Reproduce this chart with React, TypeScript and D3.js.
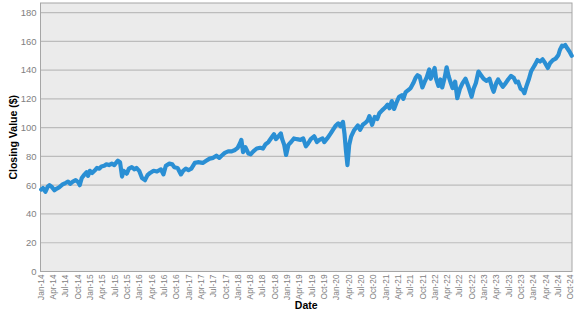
import React from "react";
import * as d3 from "d3";

const dates: string[] = [
  "2014-01-02","2014-01-15","2014-02-03","2014-02-20","2014-03-05","2014-03-20","2014-04-10","2014-04-25","2014-05-15","2014-06-10","2014-07-01","2014-07-20","2014-08-05","2014-08-25","2014-09-15","2014-10-05","2014-10-15","2014-10-30","2014-11-20","2014-12-05","2014-12-16","2014-12-29",
  "2015-01-15","2015-02-01","2015-02-20","2015-03-10","2015-03-25","2015-04-15","2015-05-01","2015-05-20","2015-06-10","2015-06-29","2015-07-15","2015-07-25","2015-08-10","2015-08-25","2015-09-05","2015-09-29","2015-10-15","2015-11-05","2015-11-25","2015-12-10","2015-12-30",
  "2016-01-20","2016-02-11","2016-03-01","2016-03-20","2016-04-15","2016-05-10","2016-06-08","2016-06-27","2016-07-15","2016-08-10","2016-09-01","2016-09-15","2016-10-10","2016-11-04","2016-11-20","2016-12-10","2016-12-30",
  "2017-01-20","2017-02-15","2017-03-10","2017-04-15","2017-05-10","2017-06-05","2017-07-01","2017-07-25","2017-08-15","2017-09-01","2017-09-25","2017-10-20","2017-11-15","2017-12-10","2017-12-30",
  "2018-01-15","2018-01-26","2018-02-08","2018-02-25","2018-03-20","2018-04-05","2018-04-25","2018-05-20","2018-06-15","2018-07-05","2018-07-25","2018-08-15","2018-09-10","2018-09-25","2018-10-10","2018-10-28","2018-11-15","2018-11-25","2018-12-10","2018-12-24",
  "2019-01-10","2019-01-30","2019-02-20","2019-03-15","2019-04-10","2019-04-30","2019-05-20","2019-06-05","2019-06-25","2019-07-20","2019-08-10","2019-08-28","2019-09-20","2019-10-03","2019-10-25","2019-11-20","2019-12-10","2019-12-28",
  "2020-01-15","2020-01-31","2020-02-19","2020-03-01","2020-03-12","2020-03-23","2020-04-05","2020-04-20","2020-05-10","2020-06-08","2020-06-25","2020-07-15","2020-08-05","2020-08-20","2020-09-02","2020-09-22","2020-10-12","2020-10-30","2020-11-15","2020-12-05","2020-12-28",
  "2021-01-15","2021-01-29","2021-02-15","2021-03-04","2021-03-20","2021-04-10","2021-04-30","2021-05-12","2021-05-28","2021-06-15","2021-07-05","2021-07-25","2021-08-10","2021-08-25","2021-09-10","2021-09-30","2021-10-15","2021-11-01","2021-11-20","2021-11-30","2021-12-15","2021-12-30",
  "2022-01-10","2022-01-27","2022-02-10","2022-02-24","2022-03-15","2022-03-29","2022-04-12","2022-04-29","2022-05-12","2022-05-31","2022-06-16","2022-07-05","2022-07-25","2022-08-16","2022-09-05","2022-09-30","2022-10-15","2022-11-01","2022-11-20","2022-12-05","2022-12-28",
  "2023-01-20","2023-02-10","2023-03-01","2023-03-13","2023-04-01","2023-04-15","2023-05-01","2023-05-20","2023-06-10","2023-06-28","2023-07-20","2023-08-10","2023-08-25","2023-09-10","2023-09-29","2023-10-15","2023-10-27","2023-11-10","2023-11-30","2023-12-15","2023-12-30",
  "2024-01-15","2024-01-31","2024-02-20","2024-03-10","2024-03-28","2024-04-18","2024-05-05","2024-05-25","2024-06-15","2024-07-05","2024-07-16","2024-08-01","2024-08-10","2024-08-25","2024-09-10","2024-09-25","2024-10-12"
];

const closingValues: number[] = [
  57,58,55.5,59,60,59,56.5,57.5,58.5,60.5,61.5,62.5,61,62.5,63.5,62,60,65,67.5,69,66.5,70,
  68.5,70,72,71.5,73,73.5,74.5,74,75,74,76,77,76,66,70,68,71.5,72.5,71,72,70,
  65,63.5,67,68.5,70,69.5,71,67.5,73.5,75,74.5,72.5,72,67.5,70,71.5,70.5,
  71.5,75.5,76,75.5,77,78.5,79,80.5,79,80.5,82.5,83.5,83.5,84.5,86,
  89,91.5,83,86.5,82,81.5,83.5,85.5,86,85.5,88.5,90,93.5,95.5,92,94,96,92,88,81,
  88,90,92.5,92,91.5,92.5,87,89,92,94,90,91.5,92.5,90,92.5,96,99,101.5,
  103,101,104,96,84,74,88,94,98,101.5,98.5,102,103.5,105,108,102,107.5,106,110,112,114,
  116,113.5,118.5,113,117,121.5,122.5,120,124.5,126,127.5,131,134.5,136.5,135.5,128,131.5,135,140.5,134,137,141.5,
  134,129,133.5,128,135,142,136,131,127.5,132,120.5,127,131,134,129,121.5,127,131,139,137,134,
  132.5,134,128,125,131,133.5,131,128.5,131,133.5,136,134.5,131.5,132,127,126,124,128.5,134,139,141.5,
  144,147,146,147.5,145,141.5,145,147,148,150.5,154,157,156.5,157.5,155,153,150
];

const yTicks: number[] = [0, 20, 40, 60, 80, 100, 120, 140, 160, 180];
const monthNames = ["Jan","Feb","Mar","Apr","May","Jun","Jul","Aug","Sep","Oct","Nov","Dec"];

export default function App() {
  const W = 577, H = 315;
  const left = 40.5, right = 572, top = 3, bottom = 271.5;
  const parse = d3.utcParse("%Y-%m-%d");
  const data = dates.map((d, i) => ({ date: parse(d) as Date, value: closingValues[i] }));

  const x = d3.scaleUtc()
    .domain([new Date(Date.UTC(2013, 11, 28)), new Date(Date.UTC(2024, 9, 14))])
    .range([left, right]);
  const y = d3.scaleLinear().domain([0, 180]).range([bottom, 12.6]);

  const xTicks = d3.utcMonth.every(3)!.range(new Date(Date.UTC(2014, 0, 1)), new Date(Date.UTC(2024, 9, 2)));

  const line = d3.line<{ date: Date; value: number }>()
    .x(d => x(d.date))
    .y(d => y(d.value))
    .curve(d3.curveLinear);

  const fmt = (d: Date) => `${monthNames[d.getUTCMonth()]}-${String(d.getUTCFullYear() % 100).padStart(2, "0")}`;

  return (
    <svg width={W} height={H} style={{ position: "absolute", left: 0, top: 0, background: "#fff" }}
      fontFamily="'Liberation Sans', Arial, sans-serif">
      <rect x={left} y={top} width={right - left} height={bottom - top} fill="#ebebeb" />
      {yTicks.map(t => (
        <line key={t} x1={left} x2={right} y1={y(t)} y2={y(t)} stroke="#bcbcbc" strokeWidth={1.2} />
      ))}
      <rect x={left} y={top} width={right - left} height={bottom - top} fill="none" stroke="#a6a6a6" strokeWidth={1} />
      {yTicks.map(t => (
        <text key={"l" + t} x={36.5} y={y(t)} dy="0.35em" textAnchor="end" fontSize={9.5} fill="#7f7f7f">{t}</text>
      ))}
      {xTicks.map((d, i) => (
        <text key={i} transform={`translate(${x(d) + 3},${bottom + 3}) rotate(-90)`} textAnchor="end"
          fontSize={8.3} fill="#7f7f7f">{fmt(d)}</text>
      ))}
      <path d={line(data) || ""} fill="none" stroke="#2a8fd4" strokeWidth={4.2} strokeLinejoin="round" strokeLinecap="round" />
      <text x={(left + right) / 2} y={309} textAnchor="middle" fontSize={10.5} fontWeight="bold" fill="#000">Date</text>
      <text transform={`translate(17,${(top + bottom) / 2}) rotate(-90)`} textAnchor="middle" fontSize={10.5}
        fontWeight="bold" fill="#000">Closing Value ($)</text>
    </svg>
  );
}
